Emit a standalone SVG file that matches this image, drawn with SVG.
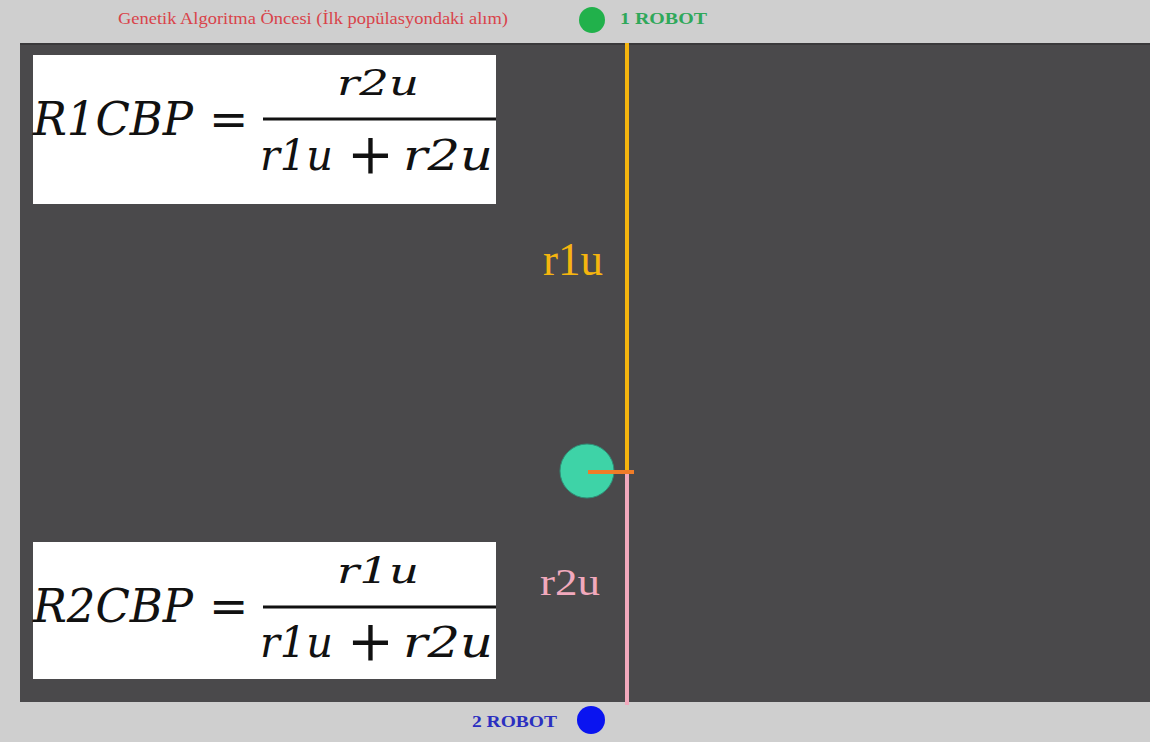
<svg xmlns="http://www.w3.org/2000/svg" width="1150" height="742" viewBox="0 0 1150 742">
<style>
.math{font-family:"DejaVu Serif","Liberation Serif",serif;font-style:italic;fill:#111}
.mop{font-family:"DejaVu Serif","Liberation Serif",serif;fill:#111}
.big{font-size:47px}
.num{font-size:36px}
.den{font-size:42px}
.plus{font-size:56px}
.lbl{font-family:"Liberation Serif","DejaVu Serif",serif}
.rob{font-family:"Liberation Serif","DejaVu Serif",serif;font-size:17px;font-weight:bold}
</style>
<rect x="0" y="0" width="1150" height="742" fill="#cfcfcf"/>
<rect x="20" y="43" width="1130" height="659" fill="#4a494b"/>
<line x1="20" y1="44" x2="1150" y2="44" stroke="#3a393b" stroke-width="2"/>
<g id="title"><text x="118" y="24" font-family="Liberation Serif, serif" font-size="17" fill="#d9434a" textLength="390" lengthAdjust="spacingAndGlyphs">Genetik Algoritma Öncesi (İlk popülasyondaki alım)</text></g>
<g id="robot1"><circle cx="592" cy="20" r="13" fill="#21b14b"/><text class="rob" x="620" y="24" fill="#2fa85a" textLength="87" lengthAdjust="spacingAndGlyphs">1 ROBOT</text></g>
<g id="robot2"><circle cx="591" cy="720" r="14" fill="#0a14f0"/><text class="rob" x="472" y="727" fill="#2b2fc0" textLength="85" lengthAdjust="spacingAndGlyphs">2 ROBOT</text></g>
<g id="connectors">
<line x1="627" y1="43" x2="627" y2="472" stroke="#f5b50f" stroke-width="4"/>
<line x1="627" y1="472" x2="627" y2="705" stroke="#f2a9bd" stroke-width="4"/>
</g>
<g id="agent"><circle cx="587" cy="471" r="27" fill="#3ed3a7" stroke="#2f8f77" stroke-width="1"/><line x1="588" y1="472" x2="634" y2="472" stroke="#f07c28" stroke-width="4"/></g>
<g id="r1u-label"><text class="lbl" x="543" y="275" font-size="46" fill="#f5b50f" textLength="60" lengthAdjust="spacingAndGlyphs">r1u</text></g>
<g id="r2u-label"><text class="lbl" x="540" y="595" font-size="37" fill="#f2a9bd" textLength="60" lengthAdjust="spacingAndGlyphs">r2u</text></g>
<g id="formula1">
<rect x="33" y="55" width="463" height="149" fill="#fff"/>
<text class="math big" x="33" y="135" textLength="160" lengthAdjust="spacingAndGlyphs">R1CBP</text>
<text class="mop big" x="209" y="135">=</text>
<text class="math num" x="337" y="95" textLength="82" lengthAdjust="spacingAndGlyphs">r2u</text>
<line x1="263" y1="119" x2="496" y2="119" stroke="#111" stroke-width="3"/>
<text class="math den" x="260" y="170" textLength="73" lengthAdjust="spacingAndGlyphs">r1u</text>
<text class="mop plus" x="347" y="173">+</text>
<text class="math den" x="403" y="170" textLength="90" lengthAdjust="spacingAndGlyphs">r2u</text>
</g>
<g id="formula2">
<rect x="33" y="542" width="463" height="137" fill="#fff"/>
<text class="math big" x="33" y="622" textLength="160" lengthAdjust="spacingAndGlyphs">R2CBP</text>
<text class="mop big" x="209" y="622">=</text>
<text class="math num" x="337" y="583" textLength="82" lengthAdjust="spacingAndGlyphs">r1u</text>
<line x1="263" y1="607" x2="496" y2="607" stroke="#111" stroke-width="3"/>
<text class="math den" x="260" y="657" textLength="73" lengthAdjust="spacingAndGlyphs">r1u</text>
<text class="mop plus" x="347" y="660">+</text>
<text class="math den" x="403" y="657" textLength="90" lengthAdjust="spacingAndGlyphs">r2u</text>
</g>
</svg>
